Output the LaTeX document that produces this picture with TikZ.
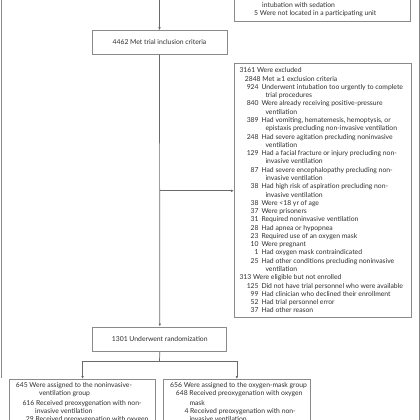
\documentclass[tikz,border=0pt]{standalone}
\usepackage{fontspec}
\setmainfont{Lato}
\newfontfamily\symf{DejaVu Sans}
\usetikzlibrary{arrows.meta}
\definecolor{boxc}{HTML}{8A8A8A}
\definecolor{linec}{HTML}{6A6A6A}
\definecolor{txtc}{HTML}{2E2E2E}
\tikzset{
  box/.style={draw=boxc, line width=0.8pt, inner sep=0pt},
  conn/.style={draw=linec, line width=0.7pt},
  arr/.style={conn, -{Latex[length=3pt,width=2.6pt]}},
  txt/.style={text=txtc, inner sep=0pt, font=\fontsize{6.8}{8}\selectfont},
  frame/.style={draw=boxc, line width=0.8pt}
}
% y is measured downward in pixels of the 420x420 reference
\newcommand\exline[3]{\node[txt,anchor=base west] (ex#1) at (#2,{72.8+8.28*#1}) {#3};}
\newcommand\exnum[3]{\node[txt,anchor=base east] (exn#1) at (258.8,{72.8+8.28*#1}) {#2};
  \node[txt,anchor=base west] (ex#1) at (261.3,{72.8+8.28*#1}) {#3};}
\newcommand\excont[2]{\node[txt,anchor=base west] (ex#1) at (265.3,{72.8+8.28*#1}) {#2};}
\begin{document}
\begin{tikzpicture}[x=1pt,y=-1pt]
\clip (0,0) rectangle (420,420);
\fill[white] (0,0) rectangle (420,420);
% frame lines
\draw[frame] (1.3,0) -- (1.3,378);
\draw[frame] (419,0) -- (419,420);
% top-right box (cut)
\node[box, minimum width=176pt, minimum height=62pt, anchor=south west] (top) at (234,21.5) {};
\node[txt,anchor=base west] (t1) at (262,7.2) {intubation with sedation};
\node[txt,anchor=base west] (t2) at (254,15.1) {5 Were not located in a participating unit};
% inclusion
\node[box, minimum width=135pt, minimum height=23.7pt] (inc) at (159.5,42.5) {};
\node[txt] (inct) at (inc.center) {4462 Met trial inclusion criteria};
% excluded box
\node[box, minimum width=177pt, minimum height=254pt, anchor=north west] (excl) at (234,63) {};
\exline{0}{239.3}{3161 Were excluded}
\exline{1}{244.7}{2848 Met {\symf\fontsize{6}{8}\selectfont ≥}1 exclusion criteria}
\exnum{2}{924}{Underwent intubation too urgently to complete}
\excont{3}{trial procedures}
\exnum{4}{840}{Were already receiving positive-pressure}
\excont{5}{ventilation}
\exnum{6}{389}{Had vomiting, hematemesis, hemoptysis, or}
\excont{7}{epistaxis precluding non-invasive ventilation}
\exnum{8}{248}{Had severe agitation precluding noninvasive}
\excont{9}{ventilation}
\exnum{10}{129}{Had a facial fracture or injury precluding non-}
\excont{11}{invasive ventilation}
\exnum{12}{87}{Had severe encephalopathy precluding non-}
\excont{13}{invasive ventilation}
\exnum{14}{38}{Had high risk of aspiration precluding non-}
\excont{15}{invasive ventilation}
\exnum{16}{38}{Were <18 yr of age}
\exnum{17}{37}{Were prisoners}
\exnum{18}{31}{Required noninvasive ventilation}
\exnum{19}{28}{Had apnea or hypopnea}
\exnum{20}{23}{Required use of an oxygen mask}
\exnum{21}{10}{Were pregnant}
\exnum{22}{1}{Had oxygen mask contraindicated}
\exnum{23}{25}{Had other conditions precluding noninvasive}
\excont{24}{ventilation}
\exline{25}{239.3}{313 Were eligible but not enrolled}
\exnum{26}{125}{Did not have trial personnel who were available}
\exnum{27}{99}{Had clinician who declined their enrollment}
\exnum{28}{52}{Had trial personnel error}
\exnum{29}{37}{Had other reason}
% randomization
\node[box, minimum width=134pt, minimum height=24.7pt] (rand) at (159.8,339.3) {};
\node[txt] (randt) at (rand.center) {1301 Underwent randomization};
% bottom boxes (cut)
\node[box, minimum width=145.7pt, minimum height=80pt, anchor=north west] (niv) at (9.3,379) {};
\node[box, minimum width=147pt, minimum height=80pt, anchor=north west] (oxy) at (163,379) {};
\node[txt,anchor=base west] (n1) at (15.7,387) {645 Were assigned to the noninvasive-};
\node[txt,anchor=base west] (n2) at (39,395.7) {ventilation group};
\node[txt,anchor=base west] (n3) at (22.3,405) {616 Received preoxygenation with non-};
\node[txt,anchor=base west] (n4) at (35,413.4) {invasive ventilation};
\node[txt,anchor=base west] (n5) at (25.7,421.7) {29 Received preoxygenation with oxygen};
\node[txt,anchor=base west] (o1) at (170,387) {656 Were assigned to the oxygen-mask group};
\node[txt,anchor=base west] (o2) at (175.7,395.7) {648 Received preoxygenation with oxygen};
\node[txt,anchor=base west] (o3) at (189.3,405) {mask};
\node[txt,anchor=base west] (o4) at (184.3,413.4) {4 Received preoxygenation with non-};
\node[txt,anchor=base west] (o5) at (189.3,421.7) {invasive ventilation};
% connectors
\coordinate (src) at (159.5,-5);
\draw[arr] (src) -- (inc.north);
\draw[arr] (inc.south) -- (rand.north);
\coordinate (branch) at (159.5,190.8);
\draw[arr] (branch) -- (branch -| excl.west);
\coordinate (split) at (159.5,361);
\draw[conn] (rand.south) -- (split);
\draw[conn] (split -| niv.north) -- (split -| oxy.north);
\draw[arr] (split -| niv.north) -- (niv.north);
\draw[arr] (split -| oxy.north) -- (oxy.north);
\end{tikzpicture}
\end{document}
